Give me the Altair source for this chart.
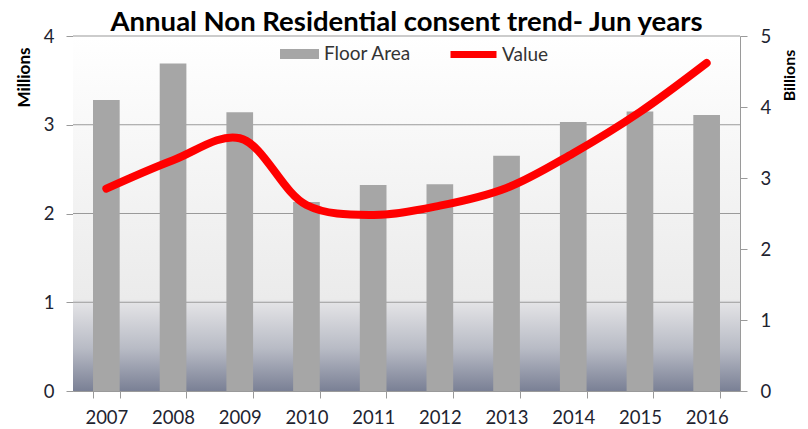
import altair as alt
import pandas as pd

years = ["2007", "2008", "2009", "2010", "2011", "2012", "2013", "2014", "2015", "2016"]
floor_area = [3.28, 3.69, 3.14, 2.13, 2.32, 2.33, 2.65, 3.03, 3.15, 3.11]   # millions
value_bn = [2.85, 3.25, 3.56, 2.62, 2.48, 2.61, 2.86, 3.35, 3.93, 4.62]    # billions
grid_vals = [1, 2, 3, 4]
left_ticks = [0, 1, 2, 3, 4]
right_ticks = [0, 1, 2, 3, 4, 5]

W, H = 667, 355
FONT = "Lato"
LABEL = "#1e2430"
GRID = "#9a9a9a"
LFS = 18.5
LEGFS = 19

df = pd.DataFrame({"year": years, "floor": floor_area, "value": value_bn,
                   "s1": "Floor Area", "s2": "Value"})
grid_df = pd.DataFrame({"g": grid_vals})

xscale = alt.Scale(domain=years, paddingInner=0.6, paddingOuter=0.3)
xaxis = alt.Axis(title=None, tickBand="extent", labelAngle=0, labelFont=FONT, labelFontSize=LFS,
                 labelColor=LABEL, labelPadding=10, tickSize=7, tickColor=GRID, domainColor=GRID,
                 grid=False)
left_axis = alt.Axis(title="Millions", values=left_ticks, grid=False, labelFont=FONT,
                     labelFontSize=LFS, labelColor=LABEL, labelPadding=12, tickSize=7,
                     tickColor=GRID, domainColor=GRID, titleFont=FONT, titleFontSize=17,
                     titleFontWeight="bold", titleColor="#000000", titleAngle=270,
                     titleX=-49, titleY=41, titleAlign="center", titleBaseline="middle")

bg = alt.Chart(alt.Data(values=[{}])).mark_rect(
    color=alt.Gradient(
        gradient="linear", x1=0, y1=0, x2=0, y2=1,
        stops=[alt.GradientStop(color="#ffffff", offset=0),
               alt.GradientStop(color="#ebebeb", offset=0.74),
               alt.GradientStop(color="#e2e2e5", offset=0.755),
               alt.GradientStop(color="#b8bbc5", offset=0.88),
               alt.GradientStop(color="#7a8095", offset=1)]
    )
).encode(x=alt.value(0), x2=alt.value(W), y=alt.value(0), y2=alt.value(H))

grid = alt.Chart(grid_df).mark_rule(color=GRID, strokeWidth=1.2).encode(
    y=alt.Y("g:Q", scale=alt.Scale(domain=[0, 4]), axis=left_axis)
)

bars = alt.Chart(df).mark_bar().encode(
    x=alt.X("year:N", scale=xscale, axis=xaxis),
    y=alt.Y("floor:Q", scale=alt.Scale(domain=[0, 4]), axis=left_axis),
    fill=alt.Fill("s1:N", scale=alt.Scale(domain=["Floor Area"], range=["#a6a6a6"]),
                  legend=alt.Legend(title=None, orient="none", legendX=207, legendY=-1.5,
                                    symbolType="M-1,-0.26H1V0.26H-1Z", symbolSize=1521,
                                    symbolStrokeWidth=0, labelFont=FONT, labelFontSize=LEGFS,
                                    labelColor="#333333", labelOffset=5))
)

left = alt.layer(bg, grid, bars)

line = alt.Chart(df).mark_line(strokeWidth=8, interpolate="catmull-rom", strokeCap="round").encode(
    x=alt.X("year:N", scale=xscale, axis=xaxis),
    y=alt.Y("value:Q", scale=alt.Scale(domain=[0, 5]),
            axis=alt.Axis(orient="right", title="Billions", values=right_ticks, grid=False,
                          labelFont=FONT, labelFontSize=LFS, labelColor=LABEL, labelPadding=13,
                          tickSize=7, tickColor=GRID, domainColor=GRID, titleFont=FONT,
                          titleFontSize=16, titleFontWeight="bold", titleColor="#000000",
                          titleAngle=270, titleX=49, titleY=39, titleAlign="center",
                          titleBaseline="middle")),
    stroke=alt.Stroke("s2:N", scale=alt.Scale(domain=["Value"], range=["#ff0000"]),
                      legend=alt.Legend(title=None, orient="none", legendX=374, legendY=-8,
                                        symbolType="stroke", symbolSize=2116,
                                        symbolStrokeWidth=7, labelFont=FONT,
                                        labelFontSize=LEGFS, labelColor="#333333",
                                        labelOffset=2))
)

chart = alt.layer(left, line).resolve_scale(y="independent", fill="independent",
                                            stroke="independent").properties(
    width=W, height=H,
    title=alt.Title("Annual Non Residential consent trend- Jun years", font=FONT, fontSize=27.5,
                    fontWeight="bold", color="#000000", anchor="middle", frame="group",
                    offset=0, dy=9),
    autosize=alt.AutoSizeParams(type="none"),
    padding={"left": 65, "top": 28, "right": 60, "bottom": 38},
).configure_view(stroke=None).configure(background="#ffffff")

chart.save("out.html", embed_options={"renderer": "svg", "actions": False})
